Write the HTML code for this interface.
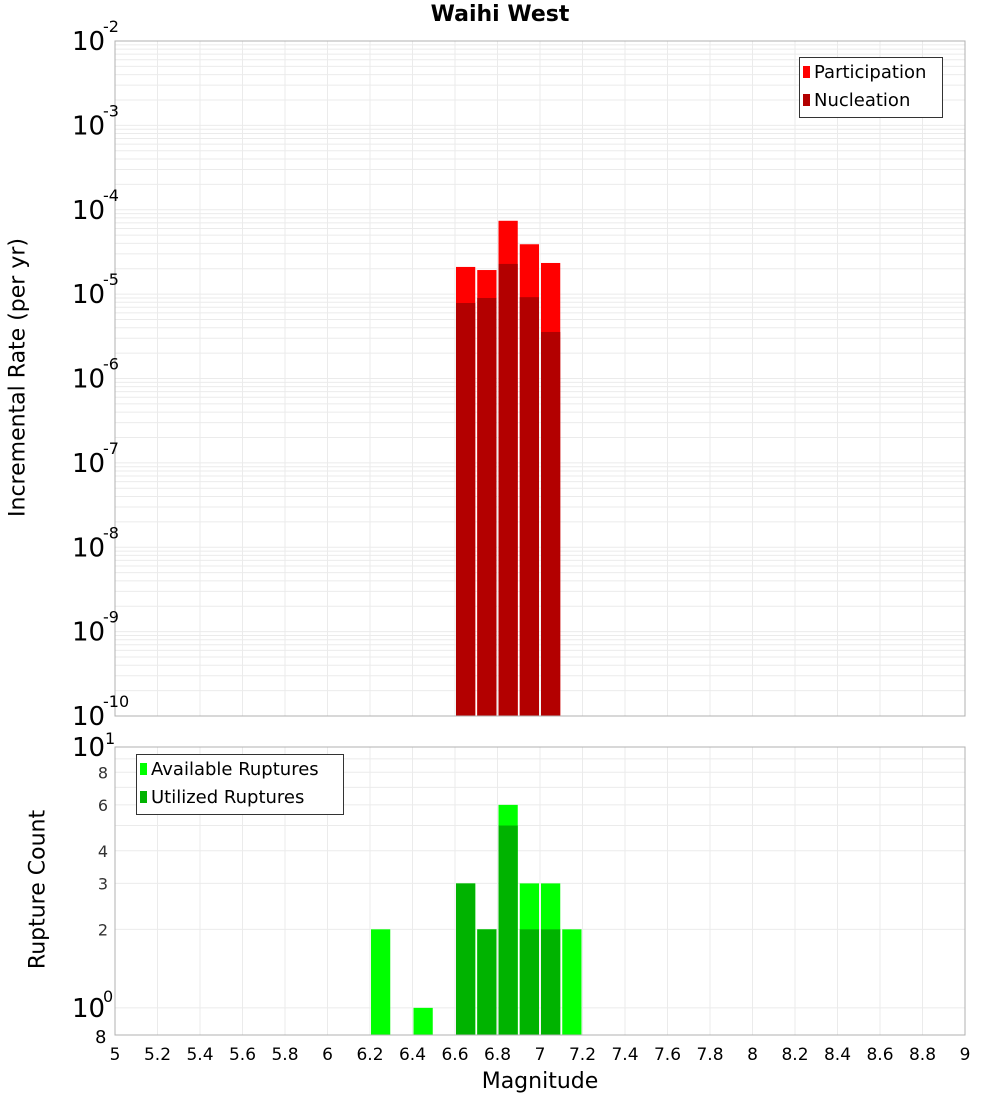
<!DOCTYPE html>
<html><head><meta charset="utf-8"><style>
body{margin:0;background:#fff;}
svg text{font-family:"DejaVu Sans","Liberation Sans",sans-serif;}
</style></head><body>
<svg id="c" width="1000" height="1100" xmlns="http://www.w3.org/2000/svg"></svg>
<script>
const bins=[6.25,6.45,6.65,6.75,6.85,6.95,7.05,7.15];
const partBins=[6.65,6.75,6.85,6.95,7.05];
const participation=[2.1e-5,1.93e-5,7.4e-5,3.9e-5,2.34e-5];
const nucleation=[7.85e-6,9e-6,2.28e-5,9.2e-6,3.56e-6];
const available=[2,1,3,2,6,3,3,2];
const utilized=[0,0,3,2,5,2,2,0];
const xTicks=[5,5.2,5.4,5.6,5.8,6,6.2,6.4,6.6,6.8,7,7.2,7.4,7.6,7.8,8,8.2,8.4,8.6,8.8,9];
const topExps=[-2,-3,-4,-5,-6,-7,-8,-9,-10];
const botTicks=[2,3,4,6,8];

const svg=document.getElementById('c');
const NS='http://www.w3.org/2000/svg';
function el(tag,attrs,parent){const e=document.createElementNS(NS,tag);for(const k in attrs)e.setAttribute(k,attrs[k]);(parent||svg).appendChild(e);return e;}
const L=115,R=965;
const x=m=>L+(m-5)/4*(R-L);
const T1=41,B1=716;
const y1=v=>T1+(-2-Math.log10(v))/8*(B1-T1);
const T2=747,B2=1035,ymin2=Math.log10(0.787);
const y2=v=>T2+(1-Math.log10(v))/(1-ymin2)*(B2-T2);

// grids
for(let d=-10;d<-2;d++)for(let k=1;k<10;k++){const v=k*Math.pow(10,d);const g=el('line',{x1:L,x2:R,y1:y1(v),y2:y1(v),stroke:'#ebebeb','stroke-width':1});
}
for(let k=1;k<=10;k++){const g=el('line',{x1:L,x2:R,y1:y2(k),y2:y2(k),stroke:'#ebebeb','stroke-width':1});
}
xTicks.forEach(t=>{[[T1,B1],[T2,B2]].forEach(([a,b])=>{const g=el('line',{x1:x(t),x2:x(t),y1:a,y2:b,stroke:'#ebebeb','stroke-width':1});
});});

const bw=(x(5.1)-x(5))-2;
// top bars
partBins.forEach((m,i)=>{
const r=el('rect',{x:x(m)-bw/2,y:y1(participation[i]),width:bw,height:B1-y1(participation[i]),fill:'#ff0000'});

const n=el('rect',{x:x(m)-bw/2,y:y1(nucleation[i]),width:bw,height:B1-y1(nucleation[i]),fill:'#b30000'});
});
// bottom bars
bins.forEach((m,i)=>{
if(available[i]>0){const r=el('rect',{x:x(m)-bw/2,y:y2(available[i]),width:bw,height:B2-y2(available[i]),fill:'#00ff00'});
}
if(utilized[i]>0){const n=el('rect',{x:x(m)-bw/2,y:y2(utilized[i]),width:bw,height:B2-y2(utilized[i]),fill:'#00b300'});
}});

// frames
let f=el('rect',{x:L,y:T1,width:R-L,height:B1-T1,fill:'none',stroke:'#b0b0b0'});

f=el('rect',{x:L,y:T2,width:R-L,height:B2-T2,fill:'none',stroke:'#b0b0b0'});


// top y labels
topExps.forEach(e=>{const yy=y1(Math.pow(10,e));
const t=el('text',{x:72,y:yy+9,'font-size':26,fill:'#000'});t.textContent='10';

const s=el('text',{x:103,y:yy-9,'font-size':16,fill:'#000'});s.textContent=String(e);
});
// bottom y labels
let t=el('text',{x:72,y:y2(10)+9,'font-size':26});t.textContent='10';

t=el('text',{x:105,y:y2(10)-3,'font-size':16});t.textContent='1';

t=el('text',{x:72,y:y2(1)+9,'font-size':26});t.textContent='10';

t=el('text',{x:103,y:y2(1)-6,'font-size':16});t.textContent='0';

t=el('text',{x:95,y:1043,'font-size':18});t.textContent='8';

botTicks.forEach(v=>{const tt=el('text',{x:108,y:y2(v)+6,'font-size':16,'text-anchor':'end',fill:'#333'});tt.textContent=String(v);
});
// x labels
xTicks.forEach(v=>{const tt=el('text',{x:x(v),y:1060,'font-size':17,'text-anchor':'middle'});tt.textContent=String(+v.toFixed(1));
});
</script>
<div style="position:absolute;left:0;top:0;width:1000px;pointer-events:none">
<div style="position:absolute;left:0;width:1000px;top:2px;text-align:center;font:bold 22px 'DejaVu Sans','Liberation Sans',sans-serif;">Waihi West</div>
<div style="position:absolute;left:-162px;top:365px;width:360px;text-align:center;transform:rotate(-90deg);font:22px 'DejaVu Sans','Liberation Sans',sans-serif;">Incremental Rate (per yr)</div>
<div style="position:absolute;left:-62px;top:877px;width:200px;text-align:center;transform:rotate(-90deg);font:22px 'DejaVu Sans','Liberation Sans',sans-serif;">Rupture Count</div>
<div style="position:absolute;left:115px;width:850px;top:1069px;text-align:center;font:22px 'DejaVu Sans','Liberation Sans',sans-serif;">Magnitude</div>
<div style="position:absolute;left:799px;top:57px;width:142px;height:59px;border:1px solid #333;background:#fff;font:18px 'DejaVu Sans','Liberation Sans',sans-serif;">
<div style="position:absolute;left:3px;top:4px;white-space:nowrap"><span style="display:inline-block;width:7px;height:12px;background:#f00;margin-right:4px"></span>Participation</div>
<div style="position:absolute;left:3px;top:32px;white-space:nowrap"><span style="display:inline-block;width:7px;height:12px;background:#b30000;margin-right:4px"></span>Nucleation</div></div>
<div style="position:absolute;left:136px;top:754px;width:206px;height:59px;border:1px solid #333;background:#fff;font:18px 'DejaVu Sans','Liberation Sans',sans-serif;">
<div style="position:absolute;left:3px;top:4px;white-space:nowrap"><span style="display:inline-block;width:7px;height:12px;background:#0f0;margin-right:4px"></span>Available Ruptures</div>
<div style="position:absolute;left:3px;top:32px;white-space:nowrap"><span style="display:inline-block;width:7px;height:12px;background:#00b300;margin-right:4px"></span>Utilized Ruptures</div></div>
</div>
</body></html>
